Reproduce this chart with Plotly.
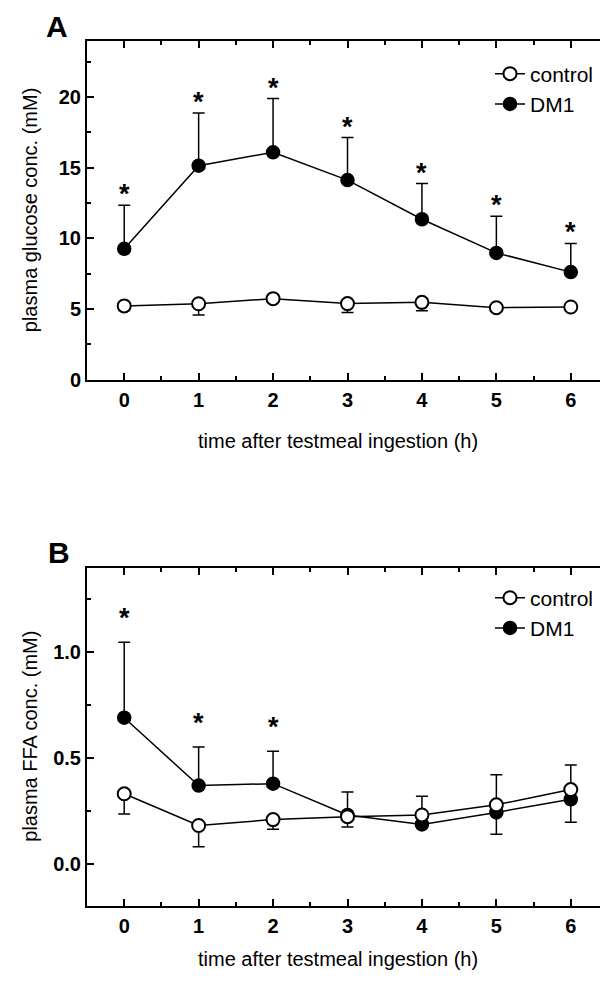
import plotly.graph_objects as go

# ---------------- data ----------------
hours = [0, 1, 2, 3, 4, 5, 6]

# Panel A: plasma glucose (mM)
glu_control = [5.23, 5.38, 5.74, 5.39, 5.48, 5.10, 5.15]
glu_control_sd = [0.33, 0.80, 0.15, 0.62, 0.60, 0.18, 0.22]
glu_dm1 = [9.27, 15.15, 16.10, 14.13, 11.36, 8.98, 7.62]
glu_dm1_sd = [3.08, 3.73, 3.80, 3.01, 2.53, 2.59, 2.03]
glu_sig_hours = [0, 1, 2, 3, 4, 5, 6]

# Panel B: plasma FFA (mM)
ffa_control = [0.330, 0.180, 0.208, 0.222, 0.230, 0.278, 0.350]
ffa_control_sd = [0.095, 0.100, 0.046, 0.049, 0.030, 0.139, 0.154]
ffa_dm1 = [0.690, 0.369, 0.378, 0.230, 0.185, 0.242, 0.304]
ffa_dm1_sd = [0.357, 0.182, 0.153, 0.108, 0.134, 0.178, 0.162]
ffa_sig_hours = [0, 1, 2]

x_ticks = [0, 1, 2, 3, 4, 5, 6]
glu_ticks = [0, 5, 10, 15, 20]
ffa_ticks = [0.0, 0.5, 1.0]
ffa_tick_labels = ["0.0", "0.5", "1.0"]

x_title = "time after testmeal ingestion (h)"
glu_title = "plasma glucose conc. (mM)"
ffa_title = "plasma FFA conc. (mM)"

# ---------------- style ----------------
FONT = "Liberation Sans, Arial, Helvetica, sans-serif"
W, H = 608, 982
L_PX, R_PX = 79, 600
A_TOP, A_BOT = 33, 376
B_TOP, B_BOT = 566, 908

def px_x(p):
    return p / W

def px_y(p):
    return 1 - p / H

fig = go.Figure()

def add_panel(xa, ya, legend, ctrl, ctrl_sd, dm, dm_sd):
    fig.add_trace(go.Scatter(
        x=hours, y=dm, name="DM1", legend=legend, legendrank=2,
        xaxis=xa, yaxis=ya, mode="lines+markers",
        line=dict(color="black", width=1.5),
        marker=dict(symbol="circle", size=13, color="black",
                    line=dict(color="black", width=1.5)),
        error_y=dict(type="data", symmetric=False, array=dm_sd,
                     arrayminus=[0] * len(dm_sd), color="black",
                     thickness=1.5, width=6),
    ))
    fig.add_trace(go.Scatter(
        x=hours, y=ctrl, name="control", legend=legend, legendrank=1,
        xaxis=xa, yaxis=ya, mode="lines+markers",
        line=dict(color="black", width=1.5),
        marker=dict(symbol="circle", size=13, color="white",
                    line=dict(color="black", width=2)),
        error_y=dict(type="data", symmetric=False, array=[0] * len(ctrl_sd),
                     arrayminus=ctrl_sd, color="black",
                     thickness=1.5, width=6),
    ))

add_panel("x", "y", "legend", glu_control, glu_control_sd, glu_dm1, glu_dm1_sd)
add_panel("x2", "y2", "legend2", ffa_control, ffa_control_sd, ffa_dm1, ffa_dm1_sd)

axis_common = dict(
    showline=True, linecolor="black", linewidth=2, mirror="allticks",
    ticks="inside", ticklen=7, tickwidth=1.5, tickcolor="black",
    showgrid=False, zeroline=False,
    tickfont=dict(family=FONT, size=20, color="black", weight="bold"),
)
minor_common = dict(ticks="inside", ticklen=4, tickwidth=1.5, tickcolor="black")

xdom = [px_x(L_PX), px_x(R_PX)]
fig.update_layout(
    xaxis=dict(domain=xdom, anchor="y", range=[-0.5, 6.5], tickvals=x_ticks,
               ticklabelstandoff=1, minor=dict(dtick=0.5, **minor_common),
               **axis_common),
    yaxis=dict(domain=[px_y(A_BOT), px_y(A_TOP)], anchor="x", range=[0, 24],
               tickvals=glu_ticks, minor=dict(dtick=2.5, **minor_common),
               **axis_common),
    xaxis2=dict(domain=xdom, anchor="y2", range=[-0.5, 6.5], tickvals=x_ticks,
                ticklabelstandoff=1, minor=dict(dtick=0.5, **minor_common),
                **axis_common),
    yaxis2=dict(domain=[px_y(B_BOT), px_y(B_TOP)], anchor="x2",
                range=[-0.2, 1.4], tickvals=ffa_ticks, ticktext=ffa_tick_labels,
                minor=dict(dtick=0.25, **minor_common),
                **axis_common),
    legend=dict(x=px_x(591), xanchor="right", y=px_y(46), yanchor="top",
                bgcolor="rgba(0,0,0,0)", borderwidth=0,
                font=dict(family=FONT, size=21, color="black"),
                traceorder="normal"),
    legend2=dict(x=px_x(591), xanchor="right", y=px_y(576), yanchor="top",
                 bgcolor="rgba(0,0,0,0)", borderwidth=0,
                 font=dict(family=FONT, size=21, color="black"),
                 traceorder="normal"),
    width=W, height=H,
    margin=dict(l=0, r=0, t=0, b=0),
    paper_bgcolor="white", plot_bgcolor="white",
    showlegend=True,
)

annotations = []
# significance stars
for h in glu_sig_hours:
    i = hours.index(h)
    annotations.append(dict(x=h, y=glu_dm1[i] + glu_dm1_sd[i], xref="x", yref="y",
                            text="*", showarrow=False, yanchor="middle",
                            yshift=11, font=dict(family=FONT, size=27,
                                                 color="black", weight="bold")))
for h in ffa_sig_hours:
    i = hours.index(h)
    annotations.append(dict(x=h, y=ffa_dm1[i] + ffa_dm1_sd[i], xref="x2", yref="y2",
                            text="*", showarrow=False, yanchor="middle",
                            yshift=24, font=dict(family=FONT, size=27,
                                                 color="black", weight="bold")))

# axis titles
for ycen, txt in [((A_TOP + A_BOT) / 2, glu_title), ((B_TOP + B_BOT) / 2, ffa_title)]:
    annotations.append(dict(x=px_x(22), y=px_y(ycen), xref="paper", yref="paper",
                            text=txt, textangle=-90, showarrow=False,
                            xanchor="center", yanchor="middle",
                            font=dict(family=FONT, size=20, color="black")))
for ycen in [438, 962]:
    annotations.append(dict(x=px_x(330), y=px_y(ycen), xref="paper", yref="paper",
                            text=x_title, showarrow=False,
                            xanchor="center", yanchor="middle",
                            font=dict(family=FONT, size=20, color="black")))

# panel letters
for (cx, cy), letter in [((49, 19), "A"), ((51, 551), "B")]:
    annotations.append(dict(x=px_x(cx), y=px_y(cy), xref="paper", yref="paper",
                            text=letter, showarrow=False,
                            xanchor="center", yanchor="middle",
                            font=dict(family=FONT, size=30, color="black",
                                      weight="bold")))

fig.update_layout(annotations=annotations)

fig.write_html("out.html")
